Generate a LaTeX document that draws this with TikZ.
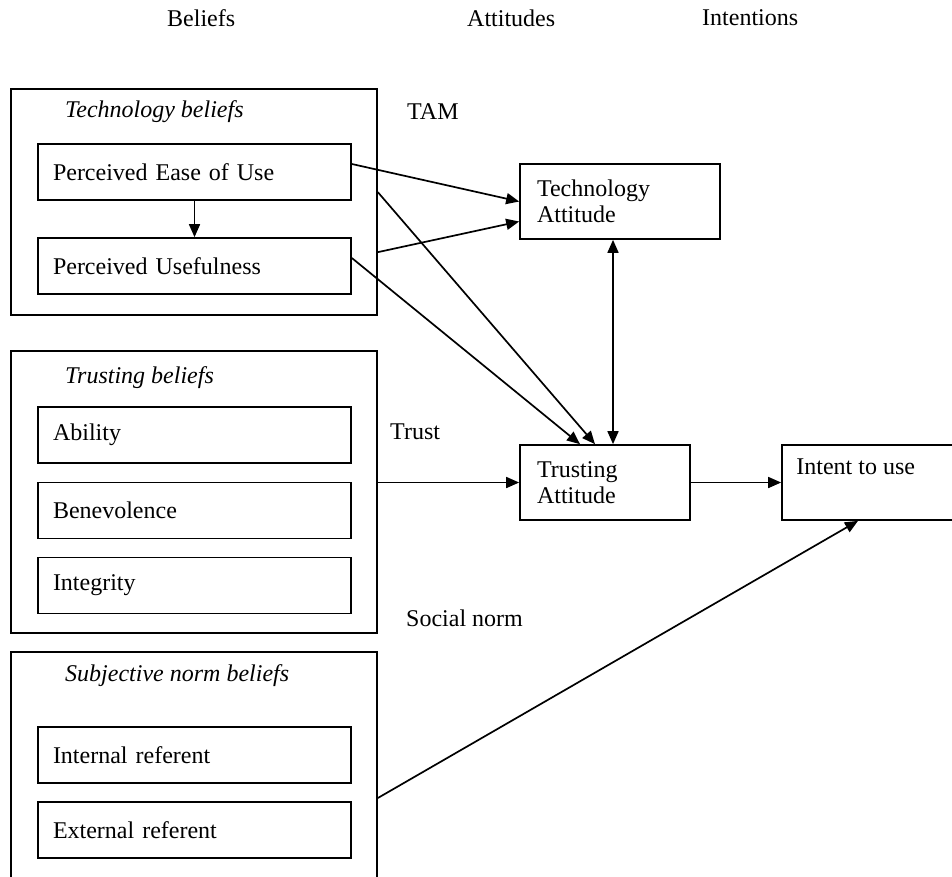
\documentclass[tikz,border=0pt]{standalone}
\usepackage{fontspec}
\setmainfont{Liberation Serif}
\usetikzlibrary{arrows.meta,calc}
\begin{document}
\begin{tikzpicture}[x=1pt,y=-1pt,
  every node/.style={font=\fontsize{24}{26}\selectfont},
  outerbox/.style={draw, line width=1.7, inner sep=0, minimum width=366},
  innerbox/.style={draw, line width=1.7, inner xsep=15, inner ysep=0, text width=283, align=left, minimum height=56},
  attbox/.style={draw, line width=1.7, inner xsep=17, inner ysep=0, align=left, minimum height=75},
  lbl/.style={anchor=west, inner sep=0},
  ital/.style={anchor=west, inner sep=0, font=\fontsize{24}{26}\selectfont\itshape},
  arr/.style={line width=1.7, -{Triangle[length=13,width=11]}},
  darr/.style={line width=1.7, {Triangle[length=13,width=11]}-{Triangle[length=13,width=11]}}
]
\useasboundingbox (0,0) rectangle (952,876);
\clip (0,0) rectangle (952,876);
\fill[white] (0,0) rectangle (952,876);

% headers
\node[lbl] (hbel) at (167,18) {Beliefs};
\node[lbl] (hatt) at (467,18) {Attitudes};
\node[lbl] (hint) at (702,18) {Intentions};

% outer belief groups
\node[outerbox, minimum height=226] (tech) at (194,202) {};
\node[outerbox, minimum height=282] (trustb) at (194,492) {};
\node[outerbox, minimum height=248] (subj) at (194,776) {};

\node[ital] (techlbl) at (65,112) {Technology beliefs};
\node[ital] (trustlbl) at (65,378) {Trusting beliefs};
\node[ital] (subjlbl) at (65,676) {Subjective norm beliefs};

% inner boxes
\node[innerbox] (peou) at (194.5,172) {Perceived Ease of Use};
\node[innerbox] (pu) at (194.5,266) {Perceived Usefulness};
\node[innerbox] (abil) at (194.5,435) {Ability};
\node[innerbox] (benev) at (194.5,510.5) {Benevolence};
\node[innerbox] (integ) at (194.5,585.5) {Integrity};
\node[innerbox] (intref) at (194.5,755) {Internal referent};
\node[innerbox] (extref) at (194.5,830) {External referent};

% free labels
\node[lbl] (tam) at (407,112) {TAM};
\node[lbl] (trustl) at (390,432) {Trust};
\node[lbl] (socl) at (406,618) {Social norm};

% attitude / intention boxes
\node[attbox, text width=166] (techatt) at (620,201.5) {Technology\\Attitude};
\node[attbox, text width=136] (trustatt) at (605,482.5) {Trusting\\Attitude};
\node[draw, line width=1.7, inner sep=0, minimum width=188, minimum height=75] (intent) at (876,482.5) {};
\node[lbl, anchor=north west] (intentlbl) at ($(intent.north west)+(15,14)$) {Intent to use};

% connectors
\draw[arr] (peou) -- (pu);
\draw[arr] ($(peou.east)+(0,-8)$) -- (techatt.west);
\draw[arr] ($(tech.north east)+(0,164)$) -- ($(techatt.west)+(0,20)$);
\draw[arr] ($(tech.north east)+(0,104)$) -- ($(trustatt.north)+(-10,0)$);
\draw[arr] ($(pu.east)+(0,-8)$) -- ($(trustatt.north)+(-25,0)$);
\coordinate (dtop) at ($(techatt.south)+(-7,0)$);
\draw[darr] (dtop) -- (dtop |- trustatt.north);
\draw[arr] (trustb.east |- trustatt.west) -- (trustatt.west);
\draw[arr] (trustatt.east) -- (intent.west);
\draw[arr] ($(subj.east)+(0,22)$) -- ($(intent.south)+(-18,0)$);
\end{tikzpicture}
\end{document}
